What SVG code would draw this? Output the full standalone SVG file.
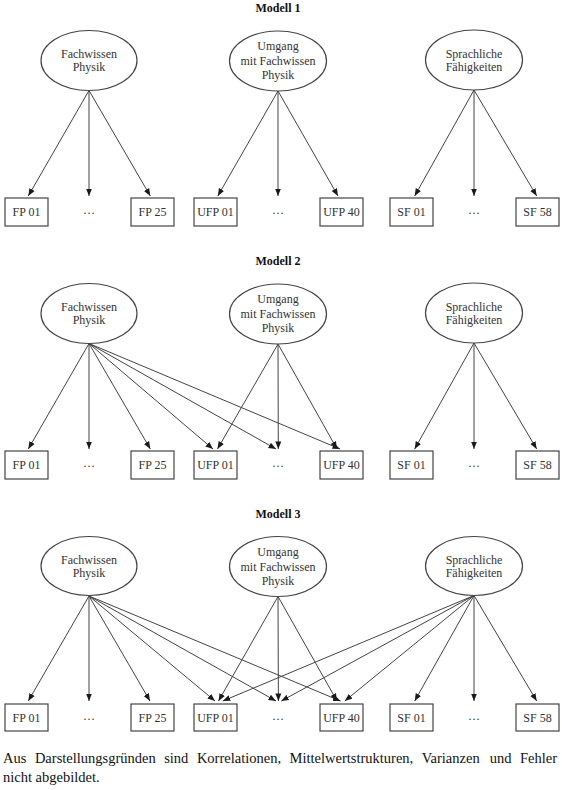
<svg xmlns="http://www.w3.org/2000/svg" width="562" height="790" viewBox="0 0 562 790">
<defs>
<marker id="ah" markerUnits="userSpaceOnUse" markerWidth="8" markerHeight="7" refX="7.5" refY="3.5" orient="auto">
<path d="M0,0.5 L7.5,3.5 L0,6.5 z" fill="#1a1a1a"/>
</marker>
</defs>
<style>
.t{font-family:"Liberation Serif","Times New Roman",serif;font-size:12px;fill:#333;text-anchor:middle}
.h{font-family:"Liberation Serif","Times New Roman",serif;font-size:12px;font-weight:bold;fill:#111;text-anchor:middle}
.f{font-family:"Liberation Serif","Times New Roman",serif;font-size:14.5px;fill:#111}
.n ellipse,.n rect{fill:#fff;stroke:#444;stroke-width:1.2}
.c line{stroke:#444;stroke-width:1;marker-end:url(#ah)}
</style>
<rect width="562" height="790" fill="#fff"/>

<!-- Modell 1 -->
<g id="modell1">
<text class="h" x="278" y="11.5">Modell 1</text>
<g id="m1-connectors" class="c">
<line x1="89" y1="90.5" x2="28.3" y2="196"/>
<line x1="89" y1="90.5" x2="89" y2="196"/>
<line x1="89" y1="90.5" x2="150.3" y2="196"/>
<line x1="278" y1="91" x2="217.8" y2="196"/>
<line x1="278" y1="91" x2="278" y2="196"/>
<line x1="278" y1="91" x2="338" y2="196"/>
<line x1="474" y1="90" x2="414.7" y2="196"/>
<line x1="474" y1="90" x2="474" y2="196"/>
<line x1="474" y1="90" x2="536.7" y2="196"/>
</g>
<g id="m1-fp" class="n"><ellipse cx="89" cy="60.5" rx="48" ry="30"/><text class="t" x="89" y="57.5">Fachwissen</text><text class="t" x="89" y="71">Physik</text></g>
<g id="m1-ufp" class="n"><ellipse cx="278" cy="61" rx="48.5" ry="30"/><text class="t" x="278" y="50">Umgang</text><text class="t" x="278" y="64.5">mit Fachwissen</text><text class="t" x="278" y="78.5">Physik</text></g>
<g id="m1-sf" class="n"><ellipse cx="474" cy="60" rx="48.5" ry="30"/><text class="t" x="474" y="57.5">Sprachliche</text><text class="t" x="474" y="71">Fähigkeiten</text></g>
<g id="m1-fp01" class="n"><rect x="5" y="198" width="43" height="28"/><text class="t" x="26.5" y="216">FP 01</text></g>
<g id="m1-fpdots"><text class="t" x="89" y="214">…</text></g>
<g id="m1-fp25" class="n"><rect x="131" y="198" width="43" height="28"/><text class="t" x="152.5" y="216">FP 25</text></g>
<g id="m1-ufp01" class="n"><rect x="194" y="198" width="43" height="28"/><text class="t" x="215.5" y="216">UFP 01</text></g>
<g id="m1-ufpdots"><text class="t" x="278" y="214">…</text></g>
<g id="m1-ufp40" class="n"><rect x="320" y="198" width="43" height="28"/><text class="t" x="341.5" y="216">UFP 40</text></g>
<g id="m1-sf01" class="n"><rect x="390" y="198" width="43" height="28"/><text class="t" x="411.5" y="216">SF 01</text></g>
<g id="m1-sfdots"><text class="t" x="474" y="214">…</text></g>
<g id="m1-sf58" class="n"><rect x="516" y="198" width="43" height="28"/><text class="t" x="537.5" y="216">SF 58</text></g>
</g>

<!-- Modell 2 -->
<g id="modell2" transform="translate(0,253)">
<text class="h" x="278" y="11.5">Modell 2</text>
<g id="m2-connectors" class="c">
<line x1="89" y1="90.5" x2="28.3" y2="196"/>
<line x1="89" y1="90.5" x2="89" y2="196"/>
<line x1="89" y1="90.5" x2="150.3" y2="196"/>
<line x1="89" y1="90.5" x2="213" y2="196"/>
<line x1="89" y1="90.5" x2="276" y2="196"/>
<line x1="89" y1="90.5" x2="340" y2="196"/>
<line x1="278" y1="91" x2="217.5" y2="196"/>
<line x1="278" y1="91" x2="278.3" y2="196"/>
<line x1="278" y1="91" x2="337" y2="196"/>
<line x1="474" y1="90" x2="414.7" y2="196"/>
<line x1="474" y1="90" x2="474" y2="196"/>
<line x1="474" y1="90" x2="536.7" y2="196"/>
</g>
<g id="m2-fp" class="n"><ellipse cx="89" cy="60.5" rx="48" ry="30"/><text class="t" x="89" y="57.5">Fachwissen</text><text class="t" x="89" y="71">Physik</text></g>
<g id="m2-ufp" class="n"><ellipse cx="278" cy="61" rx="48.5" ry="30"/><text class="t" x="278" y="50">Umgang</text><text class="t" x="278" y="64.5">mit Fachwissen</text><text class="t" x="278" y="78.5">Physik</text></g>
<g id="m2-sf" class="n"><ellipse cx="474" cy="60" rx="48.5" ry="30"/><text class="t" x="474" y="57.5">Sprachliche</text><text class="t" x="474" y="71">Fähigkeiten</text></g>
<g id="m2-fp01" class="n"><rect x="5" y="198" width="43" height="28"/><text class="t" x="26.5" y="216">FP 01</text></g>
<g id="m2-fpdots"><text class="t" x="89" y="214">…</text></g>
<g id="m2-fp25" class="n"><rect x="131" y="198" width="43" height="28"/><text class="t" x="152.5" y="216">FP 25</text></g>
<g id="m2-ufp01" class="n"><rect x="194" y="198" width="43" height="28"/><text class="t" x="215.5" y="216">UFP 01</text></g>
<g id="m2-ufpdots"><text class="t" x="278" y="214">…</text></g>
<g id="m2-ufp40" class="n"><rect x="320" y="198" width="43" height="28"/><text class="t" x="341.5" y="216">UFP 40</text></g>
<g id="m2-sf01" class="n"><rect x="390" y="198" width="43" height="28"/><text class="t" x="411.5" y="216">SF 01</text></g>
<g id="m2-sfdots"><text class="t" x="474" y="214">…</text></g>
<g id="m2-sf58" class="n"><rect x="516" y="198" width="43" height="28"/><text class="t" x="537.5" y="216">SF 58</text></g>
</g>

<!-- Modell 3 -->
<g id="modell3" transform="translate(0,506)">
<text class="h" x="278" y="11.5">Modell 3</text>
<g id="m3-connectors" class="c">
<line x1="89" y1="90" x2="28.3" y2="195"/>
<line x1="89" y1="90" x2="89" y2="195"/>
<line x1="89" y1="90" x2="150" y2="195"/>
<line x1="89" y1="90" x2="215" y2="195"/>
<line x1="89" y1="90" x2="276" y2="195"/>
<line x1="89" y1="90" x2="340.5" y2="195"/>
<line x1="278" y1="90.5" x2="218.5" y2="195"/>
<line x1="278" y1="90.5" x2="278.4" y2="195"/>
<line x1="278" y1="90.5" x2="337" y2="195"/>
<line x1="474" y1="89.5" x2="222.8" y2="195"/>
<line x1="474" y1="89.5" x2="281.3" y2="195"/>
<line x1="474" y1="89.5" x2="344.8" y2="195"/>
<line x1="474" y1="89.5" x2="414.7" y2="195"/>
<line x1="474" y1="89.5" x2="474" y2="195"/>
<line x1="474" y1="89.5" x2="536.7" y2="195"/>
</g>
<g id="m3-fp" class="n"><ellipse cx="89" cy="60" rx="48" ry="29.5"/><text class="t" x="89" y="57.5">Fachwissen</text><text class="t" x="89" y="71">Physik</text></g>
<g id="m3-ufp" class="n"><ellipse cx="278" cy="60.5" rx="48.5" ry="30"/><text class="t" x="278" y="50">Umgang</text><text class="t" x="278" y="64.5">mit Fachwissen</text><text class="t" x="278" y="78.5">Physik</text></g>
<g id="m3-sf" class="n"><ellipse cx="474" cy="60" rx="48.5" ry="29.5"/><text class="t" x="474" y="57.5">Sprachliche</text><text class="t" x="474" y="71">Fähigkeiten</text></g>
<g id="m3-fp01" class="n"><rect x="5" y="198" width="43" height="27"/><text class="t" x="26.5" y="216">FP 01</text></g>
<g id="m3-fpdots"><text class="t" x="89" y="214">…</text></g>
<g id="m3-fp25" class="n"><rect x="131" y="198" width="43" height="27"/><text class="t" x="152.5" y="216">FP 25</text></g>
<g id="m3-ufp01" class="n"><rect x="194" y="198" width="43" height="27"/><text class="t" x="215.5" y="216">UFP 01</text></g>
<g id="m3-ufpdots"><text class="t" x="278" y="214">…</text></g>
<g id="m3-ufp40" class="n"><rect x="320" y="198" width="43" height="27"/><text class="t" x="341.5" y="216">UFP 40</text></g>
<g id="m3-sf01" class="n"><rect x="390" y="198" width="43" height="27"/><text class="t" x="411.5" y="216">SF 01</text></g>
<g id="m3-sfdots"><text class="t" x="474" y="214">…</text></g>
<g id="m3-sf58" class="n"><rect x="516" y="198" width="43" height="27"/><text class="t" x="537.5" y="216">SF 58</text></g>
</g>

<!-- Fußnote -->
<text class="f" y="763"><tspan x="3">Aus</tspan><tspan x="34.9">Darstellungsgründen</tspan><tspan x="164.2">sind</tspan><tspan x="196.9">Korrelationen,</tspan><tspan x="289.6">Mittelwertstrukturen,</tspan><tspan x="421.7">Varianzen</tspan><tspan x="489.8">und</tspan><tspan x="520">Fehler</tspan></text>
<text class="f" x="3" y="782">nicht abgebildet.</text>
</svg>
